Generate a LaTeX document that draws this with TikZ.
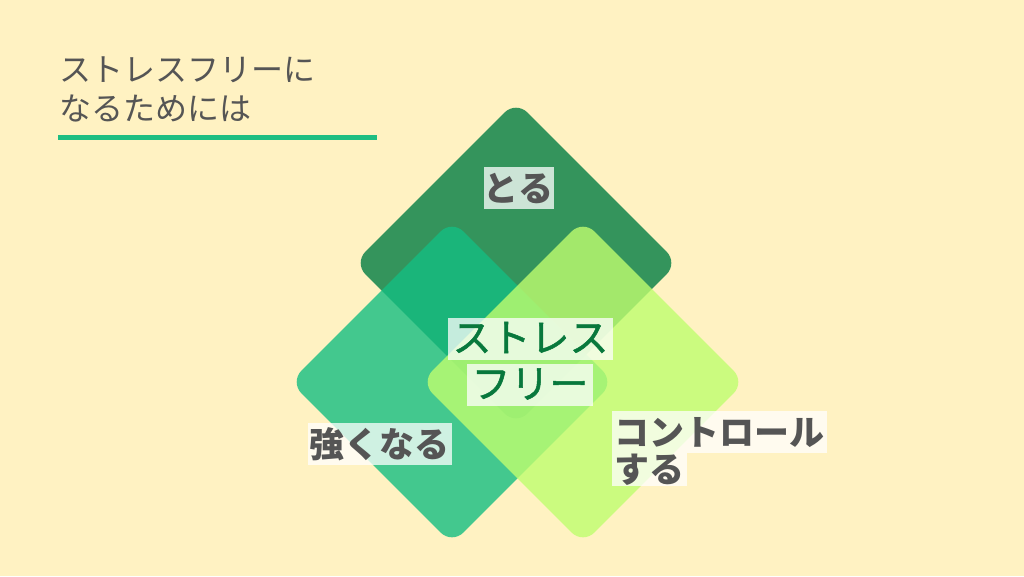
\documentclass[tikz,border=0pt]{standalone}
\usepackage{fontspec}
\usetikzlibrary{shapes.geometric}
\newfontfamily\jp{Noto Sans CJK JP}
\newfontfamily\jpm[FakeBold=1.3]{Noto Sans CJK JP}
\definecolor{bgc}{RGB}{255,242,194}
\definecolor{topc}{RGB}{52,148,92}
\definecolor{leftc}{RGB}{20,190,130}
\definecolor{rightc}{RGB}{191,254,111}
\definecolor{txtgray}{RGB}{85,85,85}
\definecolor{darkgreen}{RGB}{8,120,60}
\definecolor{linec}{RGB}{30,190,130}
\begin{document}
\begin{tikzpicture}[x=1pt,y=-1pt,
  dia/.style={diamond, minimum width=324pt, minimum height=324pt, inner sep=0pt, rounded corners=16pt, draw=none},
  lab/.style={fill=white, fill opacity=0.75, text opacity=1, text=txtgray,
    font=\jp\bfseries\fontsize{35pt}{35pt}\selectfont, inner xsep=3pt, inner ysep=3pt,
    text height=31pt, text depth=5pt, anchor=base},
  cen/.style={fill=white, fill opacity=0.75, text opacity=1, text=darkgreen,
    font=\jpm\fontsize{39pt}{39pt}\selectfont, inner xsep=4.5pt, inner ysep=1pt,
    text height=33pt, text depth=7pt, anchor=base},
  ttl/.style={text=txtgray, font=\jp\fontsize{32pt}{32pt}\selectfont, inner sep=0pt, anchor=base west}]
\useasboundingbox (0,0) rectangle (1024,576);
\fill[bgc] (0,0) rectangle (1024,576);
% title
\node[ttl] (t1) at (59,81) {ストレスフリーに};
\node[ttl] (t2) at (59,120) {なるためには};
\coordinate (u1) at (58,137.5);
\coordinate (u2) at (377,137.5);
\draw[linec, line width=4.5pt] (u1) -- (u2);
% diamonds
\node[dia, fill=topc] (dtop) at (516,263) {};
\node[dia, fill=leftc, fill opacity=0.8] (dleft) at (452,382) {};
\node[dia, fill=rightc, fill opacity=0.8] (dright) at (583,382) {};
% labels
\node[lab, inner xsep=0pt] (ltop) at (518.5,201) {とる};
\node[lab, inner xsep=2pt] (lleft) at (379.5,457) {強くなる};
\node[lab, anchor=base west, inner xsep=2.5pt] (lr1) at (612,445) {コントロール};
\node[lab, anchor=base west, inner xsep=2.5pt, inner ysep=0pt, text height=29pt, text depth=4pt] (lr2) at (612,482) {する};
\node[cen] (c1) at (530.5,352) {ストレス};
\node[cen] (c2) at (530,398) {フリー};
\end{tikzpicture}
\end{document}
